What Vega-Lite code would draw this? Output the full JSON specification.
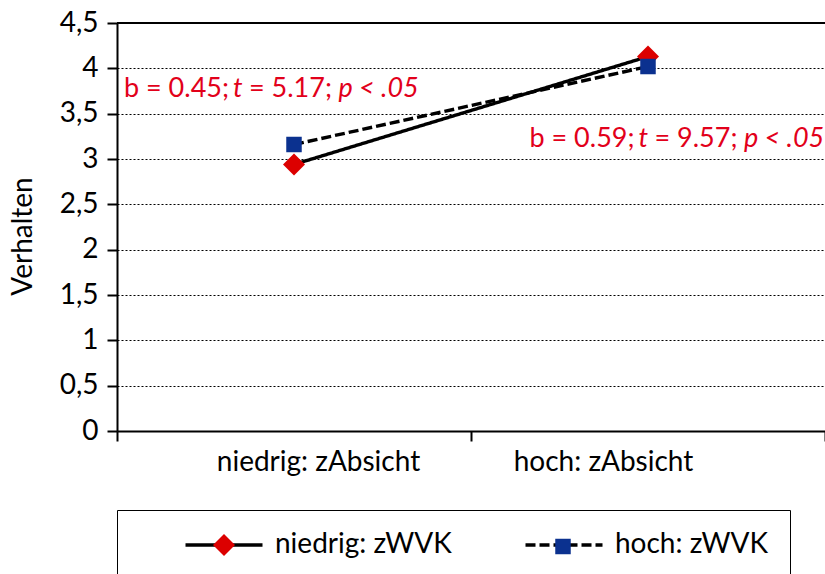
{
  "$schema": "https://vega.github.io/schema/vega-lite/v6.json",
  "width": 708,
  "height": 408,
  "autosize": {"type": "none"},
  "padding": {"left": 117, "top": 23, "right": 0, "bottom": 143},
  "background": "white",
  "config": {"view": {"stroke": null}, "font": "Lato"},
  "data": {"values": [
    {"absicht": "niedrig: zAbsicht", "wvk": "niedrig: zWVK", "verhalten": 2.94},
    {"absicht": "hoch: zAbsicht", "wvk": "niedrig: zWVK", "verhalten": 4.13},
    {"absicht": "niedrig: zAbsicht", "wvk": "hoch: zWVK", "verhalten": 3.16},
    {"absicht": "hoch: zAbsicht", "wvk": "hoch: zWVK", "verhalten": 4.02}
  ]},
  "encoding": {
    "x": {"field": "absicht", "type": "nominal", "sort": ["niedrig: zAbsicht", "hoch: zAbsicht"],
      "scale": {"type": "band", "paddingInner": 0, "paddingOuter": 0},
      "axis": {"title": null, "labelAngle": 0, "tickBand": "extent", "domainColor": "black", "domainWidth": 2, "tickColor": "black", "tickWidth": 2, "tickSize": 10, "labelFontSize": 28, "labelColor": "black", "labelPadding": 7, "labelFont": "Lato", "labelLimit": 400,
        "labelOffset": {"condition": {"test": "datum.value === 'hoch: zAbsicht'", "value": -45}, "value": 24}}},
    "y": {"field": "verhalten", "type": "quantitative", "scale": {"domain": [0, 4.5], "nice": false, "zero": true},
      "axis": {"values": [0, 0.5, 1, 1.5, 2, 2.5, 3, 3.5, 4, 4.5], "format": "~g", "labelExpr": "replace(datum.label, '.', ',')", "grid": true, "gridDash": [2, 2], "gridColor": "black", "gridWidth": 1.2, "domainColor": "black", "domainWidth": 2, "tickColor": "black", "tickWidth": 2, "tickSize": 10, "labelFontSize": 28, "labelColor": "black", "labelPadding": 9, "labelFont": "Lato", "title": "Verhalten", "titleFontSize": 28, "titleFontWeight": "normal", "titleColor": "black", "titleFont": "Lato", "titlePadding": 22, "titleY": 213}}
  },
  "layer": [
    {"mark": {"type": "rule", "color": "black", "strokeWidth": 2}, "encoding": {"x": null, "y": {"datum": 4.5}}},
    {"mark": {"type": "line", "color": "black", "strokeWidth": 3.4},
      "encoding": {
        "strokeDash": {"field": "wvk", "type": "nominal", "sort": ["niedrig: zWVK", "hoch: zWVK"], "scale": {"range": [[1, 0], [10, 4]]},
          "legend": {"orient": "none", "legendX": 0, "legendY": 487, "direction": "horizontal", "title": " ", "titleOrient": "left", "titlePadding": 72, "titleFontSize": 60, "padding": 21, "strokeColor": "black", "symbolType": "M-3.5,0H3.5", "symbolSize": 484, "symbolStrokeWidth": 3.4, "symbolStrokeColor": "black", "symbolFillColor": "transparent", "labelFontSize": 28, "labelFont": "Lato", "labelColor": "black", "labelOffset": 37, "labelLimit": 400, "columnPadding": 66, "zindex": 1,
            "labelExpr": "datum.label === 'hoch: zWVK' ? datum.label + '\u00a0\u00a0\u00a0\u00a0\u00a0\u00a0\u00a0\u00a0' : datum.label"}}
      }},
    {"mark": {"type": "point", "filled": true, "opacity": 1},
      "encoding": {
        "order": {"field": "wvk", "sort": "descending"},
        "color": {"field": "wvk", "type": "nominal", "scale": {"domain": ["niedrig: zWVK", "hoch: zWVK"], "range": ["#DC0000", "#0B318F"]},
          "legend": {"orient": "none", "legendX": 0, "legendY": 487, "direction": "horizontal", "title": " ", "titleOrient": "left", "titlePadding": 72, "titleFontSize": 60, "padding": 21, "labelFontSize": 28, "labelFont": "Lato", "labelExpr": "''", "labelOffset": 0, "labelLimit": 400, "columnPadding": 308, "zindex": 2, "symbolOpacity": 1, "symbolStrokeWidth": 3, "symbolStrokeColor": "transparent"}},
        "shape": {"field": "wvk", "type": "nominal", "scale": {"domain": ["niedrig: zWVK", "hoch: zWVK"], "range": ["diamond", "square"]},
          "legend": {"orient": "none", "legendX": 0, "legendY": 487, "direction": "horizontal", "title": " ", "titleOrient": "left", "titlePadding": 72, "titleFontSize": 60, "padding": 21, "labelFontSize": 28, "labelFont": "Lato", "labelExpr": "''", "labelOffset": 0, "labelLimit": 400, "columnPadding": 308, "zindex": 2, "symbolOpacity": 1, "symbolStrokeWidth": 3, "symbolStrokeColor": "transparent"}},
        "size": {"field": "wvk", "type": "nominal", "scale": {"domain": ["niedrig: zWVK", "hoch: zWVK"], "range": [484, 240]},
          "legend": {"orient": "none", "legendX": 0, "legendY": 487, "direction": "horizontal", "title": " ", "titleOrient": "left", "titlePadding": 72, "titleFontSize": 60, "padding": 21, "labelFontSize": 28, "labelFont": "Lato", "labelExpr": "''", "labelOffset": 0, "labelLimit": 400, "columnPadding": 308, "zindex": 2, "symbolOpacity": 1, "symbolStrokeWidth": 3, "symbolStrokeColor": "transparent"}}
      }},
    {"data": {"values": [{"absicht": "niedrig: zAbsicht", "verhalten": 3.68, "label": "b = 0.45;"}]},
      "mark": {"type": "text", "align": "left", "baseline": "alphabetic", "dx": -170, "fontSize": 27, "font": "Lato", "color": "#E2001A"},
      "encoding": {"text": {"field": "label"}}},
    {"data": {"values": [{"absicht": "niedrig: zAbsicht", "verhalten": 3.68, "label": "t"}]},
      "mark": {"type": "text", "align": "left", "baseline": "alphabetic", "dx": -61, "fontSize": 27, "font": "Lato", "fontStyle": "italic", "color": "#E2001A"},
      "encoding": {"text": {"field": "label"}}},
    {"data": {"values": [{"absicht": "niedrig: zAbsicht", "verhalten": 3.68, "label": "= 5.17;"}]},
      "mark": {"type": "text", "align": "left", "baseline": "alphabetic", "dx": -45, "fontSize": 27, "font": "Lato", "color": "#E2001A"},
      "encoding": {"text": {"field": "label"}}},
    {"data": {"values": [{"absicht": "niedrig: zAbsicht", "verhalten": 3.68, "label": "p < .05"}]},
      "mark": {"type": "text", "align": "left", "baseline": "alphabetic", "dx": 44.5, "fontSize": 27, "font": "Lato", "fontStyle": "italic", "color": "#E2001A"},
      "encoding": {"text": {"field": "label"}}},
    {"data": {"values": [{"absicht": "hoch: zAbsicht", "verhalten": 3.13, "label": "b = 0.59;"}]},
      "mark": {"type": "text", "align": "left", "baseline": "alphabetic", "dx": -118.5, "fontSize": 27, "font": "Lato", "color": "#E2001A"},
      "encoding": {"text": {"field": "label"}}},
    {"data": {"values": [{"absicht": "hoch: zAbsicht", "verhalten": 3.13, "label": "t"}]},
      "mark": {"type": "text", "align": "left", "baseline": "alphabetic", "dx": -9.5, "fontSize": 27, "font": "Lato", "fontStyle": "italic", "color": "#E2001A"},
      "encoding": {"text": {"field": "label"}}},
    {"data": {"values": [{"absicht": "hoch: zAbsicht", "verhalten": 3.13, "label": "= 9.57;"}]},
      "mark": {"type": "text", "align": "left", "baseline": "alphabetic", "dx": 6.5, "fontSize": 27, "font": "Lato", "color": "#E2001A"},
      "encoding": {"text": {"field": "label"}}},
    {"data": {"values": [{"absicht": "hoch: zAbsicht", "verhalten": 3.13, "label": "p < .05"}]},
      "mark": {"type": "text", "align": "left", "baseline": "alphabetic", "dx": 96, "fontSize": 27, "font": "Lato", "fontStyle": "italic", "color": "#E2001A"},
      "encoding": {"text": {"field": "label"}}}
  ]
}
